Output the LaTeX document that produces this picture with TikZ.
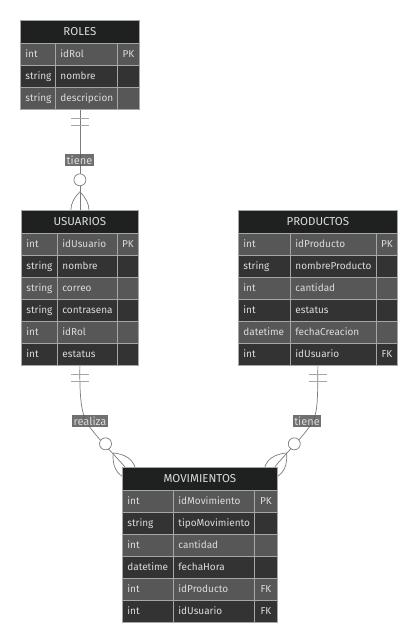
\documentclass[tikz,border=0pt]{standalone}
\usepackage{fontspec}
\setmainfont{Fira Sans}
\usetikzlibrary{fit,backgrounds}
\definecolor{erhead}{HTML}{1F2020}
\definecolor{erodd}{HTML}{575757}
\definecolor{ereven}{HTML}{333333}
\definecolor{erline}{HTML}{A6A6A6}
\definecolor{ertext}{HTML}{DCDCDC}
\definecolor{eredge}{HTML}{7C7C7C}

\newcommand{\ertable}[8]{%
\pgfmathsetmacro\wall{#4+#5+#6}
\node[hdr, minimum width=\wall pt] (#1) at (#2,#3) {#7};
\foreach \ty/\nm/\ky [count=\i] in {#8} {
  \ifodd\i \def\rowfill{erodd}\else \def\rowfill{ereven}\fi
  \node[cell, fill=\rowfill, text width=\dimexpr #4pt-10pt\relax] (#1-t\i) at ({#2},{#3+23+(\i-1)*22}) {\ty};
  \node[cell, fill=\rowfill, text width=\dimexpr #5pt-10pt\relax] (#1-n\i) at ({#2+#4},{#3+23+(\i-1)*22}) {\nm};
  \node[keycell, fill=\rowfill, minimum width=#6pt] (#1-k\i) at ({#2+#4+#5},{#3+23+(\i-1)*22}) {\ky};
  \coordinate (#1-end) at (#1-k\i.south east);
}
\node[fit=(#1)(#1-end), inner sep=0pt] (#1-box) {};
}

\newcommand{\oneonly}[2]{%
\begin{scope}[shift={(#1)}, rotate=#2]
\draw[tick] (8,-9) -- (8,9) (15,-9) -- (15,9);
\end{scope}}

\newcommand{\zeromany}[2]{%
\begin{scope}[shift={(#1)}, rotate=#2]
\draw[rel] (18,0) .. controls (6,12) and (-6,12) .. (-18,0);
\draw[rel] (18,0) .. controls (6,-12) and (-6,-12) .. (-18,0);
\draw[rel, fill=white] (30,0) circle (6pt);
\end{scope}}

\begin{document}
\begin{tikzpicture}[x=1pt, y=-1pt,
  hdr/.style={fill=erhead, draw=erline, line width=0.8pt, anchor=north west, minimum height=23pt, inner sep=0pt, text=ertext, font=\fontsize{11.5}{13}\selectfont},
  cell/.style={draw=erline, line width=0.8pt, anchor=north west, minimum height=22pt, inner xsep=5pt, inner ysep=0pt, text height=7.5pt, text depth=2.2pt, align=left, text=ertext, font=\fontsize{10}{12}\selectfont},
  keycell/.style={draw=erline, line width=0.8pt, anchor=north west, minimum height=22pt, inner sep=0pt, text height=7.5pt, text depth=2.2pt, text=ertext, font=\fontsize{10}{12}\selectfont},
  rel/.style={draw=eredge, line width=0.7pt},
  tick/.style={draw=erline, line width=0.9pt},
  relname/.style={fill=erodd, fill opacity=0.85, text opacity=1, text=ertext, inner xsep=1.5pt, inner ysep=1.5pt, font=\fontsize{11}{13}\selectfont}]
\useasboundingbox (0,0) rectangle (418,642);

\ertable{roles}{20}{20}{35}{62}{22}{ROLES}{int/idRol/PK, string/nombre/, string/descripcion/}
\ertable{usuarios}{21}{210}{36}{60}{21}{USUARIOS}{int/idUsuario/PK, string/nombre/, string/correo/, string/contrasena/, int/idRol/, int/estatus/}
\ertable{productos}{238}{210}{52}{86}{21}{PRODUCTOS}{int/idProducto/PK, string/nombreProducto/, int/cantidad/, int/estatus/, datetime/fechaCreacion/, int/idUsuario/FK}
\ertable{movimientos}{122}{467}{51}{81}{23}{MOVIMIENTOS}{int/idMovimiento/PK, string/tipoMovimiento/, int/cantidad/, datetime/fechaHora/, int/idProducto/FK, int/idUsuario/FK}

\coordinate (mov-l) at ([xshift=3pt]movimientos-box.north west);
\coordinate (mov-r) at ([xshift=-3pt]movimientos-box.north east);
\coordinate (realiza-m) at (86,421);
\coordinate (tiene2-m) at (313,421);

\begin{scope}[on background layer]
\fill[white] (0,0) rectangle (418,642);
\draw[rel] (roles-box.south) -- (usuarios-box.north);
\draw[rel] (usuarios-box.south) .. controls (79.5,391) and (80.6,410.3) .. (realiza-m)
  .. controls (92.7,434) and (115.4,455.5) .. (mov-l);
\draw[rel] (productos-box.south) .. controls (317.5,391) and (318.4,410.3) .. (tiene2-m)
  .. controls (306.3,434) and (283.6,455.5) .. (mov-r);
\oneonly{roles-box.south}{-90}
\zeromany{usuarios-box.north}{90}
\oneonly{usuarios-box.south}{-90}
\zeromany{mov-l}{130}
\oneonly{productos-box.south}{-90}
\zeromany{mov-r}{50}
\end{scope}

\node[relname] (tiene1) at (79.5,160) {tiene};
\node[relname] (realiza) at (90,421) {realiza};
\node[relname] (tiene2) at (307,421) {tiene};
\end{tikzpicture}
\end{document}
